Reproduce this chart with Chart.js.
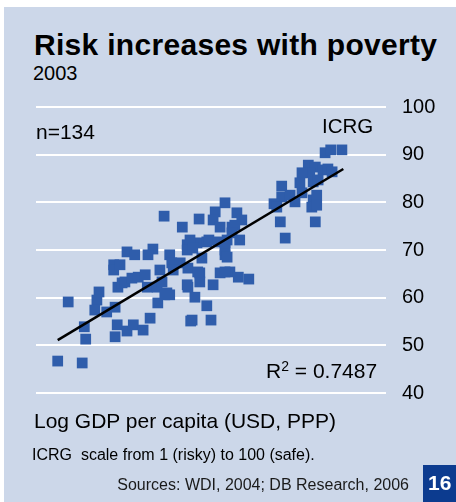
<!DOCTYPE html>
<html>
<head>
<meta charset="utf-8">
<title>Risk increases with poverty</title>
<script src="https://cdn.jsdelivr.net/npm/chart.js@4.4.1/dist/chart.umd.min.js"></script>
<style>
  html, body { margin: 0; padding: 0; background: #fff; }
  body { width: 456px; height: 502px; position: relative; overflow: hidden;
         font-family: "Liberation Sans", Arial, sans-serif; color: #000; }
  .panel { position: absolute; left: 4px; top: 7px; right: 0; bottom: 0; background: #ccd7e9; }
  .txt { position: absolute; white-space: pre; }
  #chartWrap { position: absolute; left: 0; top: 79px; width: 456px; height: 342px; }
  .badge { position: absolute; left: 423px; top: 465px; width: 33px; height: 37px; background: #0c3b8f; }
</style>
</head>
<body>
<div class="panel"></div>
<div class="txt" style="left:34px; top:29.6px; font-size:30px; line-height:30px; font-weight:bold; letter-spacing:0.3px;">Risk increases with poverty</div>
<div class="txt" style="left:33px; top:63px; font-size:20px; line-height:20px;">2003</div>

<div id="chartWrap"><canvas id="riskChart"></canvas></div>

<div class="txt" style="left:36px; top:120.5px; font-size:21px; line-height:21px;">n=134</div>
<div class="txt" style="left:322px; top:115px; font-size:20.5px; line-height:21px;">ICRG</div>
<div class="txt" style="left:266px; top:359.5px; font-size:21px; line-height:21px;">R<sup style="font-size:14px; vertical-align:7px; line-height:0;">2</sup> = 0.7487</div>
<div class="txt" style="left:34px; top:410.2px; font-size:21px; line-height:21px;">Log GDP per capita (USD, PPP)</div>
<div class="txt" style="left:32px; top:446.5px; font-size:16px; line-height:16px;">ICRG  scale from 1 (risky) to 100 (safe).</div>
<div class="txt" style="right:47px; top:476.5px; font-size:16px; line-height:16px; color:#1a1a1a;">Sources: WDI, 2004; DB Research, 2006</div>
<div class="badge"></div>
<div class="txt" style="left:428px; top:472px; font-size:21px; line-height:21px; font-weight:bold; color:#fff;">16</div>

<script>
  // Log GDP per capita (x) and ICRG rating (y)
  const gdpLog = [
    6.31, 6.66, 6.46, 6.69, 6.71, 6.90, 6.87, 6.84, 7.01, 7.13,
    7.16, 7.13, 7.11, 7.11, 7.17, 7.20, 7.30, 7.39, 7.53, 7.63,
    7.30, 7.41, 7.67, 7.60, 7.91, 7.94, 8.16, 8.30, 8.44, 8.70,
    8.37, 8.06, 7.77, 7.96, 7.23, 7.27, 7.37, 7.46, 7.56, 7.59,
    7.73, 7.80, 7.87, 7.74, 8.16, 8.27, 8.34, 8.34, 8.44, 8.23,
    8.50, 8.53, 8.63, 8.77, 8.89, 9.04, 7.83, 8.09, 8.33, 8.70,
    8.56, 8.53, 8.63, 8.87, 8.20, 8.47, 8.73, 8.80, 8.16, 8.24,
    8.60, 8.70, 8.17, 8.31, 8.17, 8.70, 8.21, 7.91, 9.51, 9.51,
    9.40, 9.49, 9.56, 8.94, 8.84, 8.80, 8.91, 8.70, 8.73, 10.13,
    10.21, 10.37, 9.89, 9.99, 10.10, 10.17, 9.91, 9.80, 9.77, 9.96,
    10.03, 9.80, 9.63, 9.70, 9.96, 10.01, 9.94, 10.01, 9.44, 9.99,
    10.23, 7.84
  ];
  const icrg = [
    46.7, 46.3, 59.1, 53.9, 51.3, 61.2, 59.5, 57.4, 57.0, 58.0,
    54.3, 51.8, 66.9, 65.8, 62.2, 66.9, 53.0, 54.3, 53.2, 55.7,
    69.6, 69.0, 70.2, 69.0, 69.0, 67.3, 71.1, 71.5, 71.7, 69.0,
    68.3, 67.3, 65.8, 65.8, 63.1, 63.3, 64.1, 64.3, 64.8, 62.2,
    62.2, 63.3, 61.0, 58.9, 62.7, 60.1, 65.2, 63.3, 58.3, 55.3,
    55.3, 62.7, 65.2, 65.4, 64.3, 63.9, 77.1, 74.8, 76.5, 79.9,
    78.0, 76.3, 74.8, 77.8, 72.1, 72.1, 72.1, 74.8, 70.0, 70.4,
    71.7, 70.0, 66.2, 65.4, 62.2, 65.4, 55.1, 60.6, 83.4, 81.1,
    79.7, 75.9, 72.5, 76.3, 75.2, 73.6, 72.1, 71.5, 68.5, 90.4,
    91.0, 91.0, 87.8, 87.4, 86.8, 87.0, 86.2, 86.2, 84.1, 84.3,
    84.7, 82.0, 81.5, 80.1, 80.5, 81.5, 79.0, 79.4, 79.0, 75.9,
    86.4, 60.6
  ];
  // fitted trend line end points
  const trendX = [6.31, 10.39];
  const trendY = [51.1, 87.0];
  const yTicks = [40, 50, 60, 70, 80, 90, 100];

  const points = gdpLog.map((x, i) => ({ x: x, y: icrg[i] }));
  const trend = trendX.map((x, i) => ({ x: x, y: trendY[i] }));

  new Chart(document.getElementById('riskChart'), {
    type: 'scatter',
    data: {
      datasets: [{
        label: 'ICRG',
        data: points,
        pointStyle: 'rect',
        pointRadius: 7.6,
        backgroundColor: '#2f5dab',
        borderColor: '#2f5dab',
        borderWidth: 0,
        order: 2
      }, {
        label: 'Trend',
        data: trend,
        showLine: true,
        pointRadius: 0,
        borderColor: '#000',
        borderWidth: 2.5,
        order: 1
      }]
    },
    options: {
      responsive: true,
      maintainAspectRatio: false,
      animation: false,
      layout: { padding: { left: 36, right: 0, top: 0, bottom: 0 } },
      plugins: { legend: { display: false }, tooltip: { enabled: false } },
      scales: {
        x: { type: 'linear', min: 6, max: 11, display: false },
        y: {
          position: 'right',
          min: 40, max: 100,
          afterBuildTicks: scale => { scale.ticks = yTicks.map(v => ({ value: v })); },
          afterFit: scale => { scale.width = 70; },
          border: { display: false },
          grid: { color: '#ffffff', lineWidth: 2, drawTicks: false },
          ticks: {
            padding: 16,
            color: '#000',
            font: { family: '"Liberation Sans", Arial, sans-serif', size: 20 }
          }
        }
      }
    }
  });
</script>
</body>
</html>
